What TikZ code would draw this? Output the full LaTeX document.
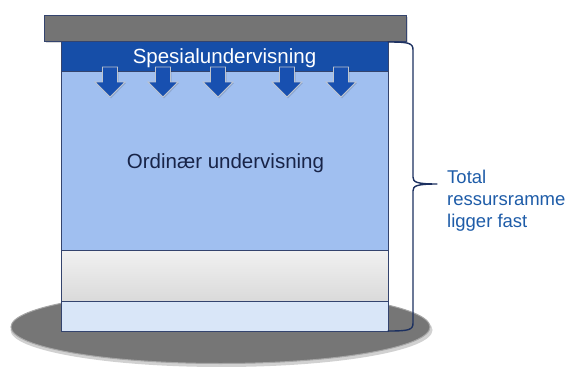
\documentclass[tikz,border=0pt]{standalone}
\usepackage{fontspec}
\setmainfont{Liberation Sans}
\usetikzlibrary{shapes.geometric}
\definecolor{barGray}{RGB}{116,116,116}
\definecolor{edgeNavy}{RGB}{52,68,110}
\definecolor{darkBand}{RGB}{22,78,168}
\definecolor{lightBand}{RGB}{160,191,240}
\definecolor{paleBand}{RGB}{217,230,248}
\definecolor{grayTop}{RGB}{241,241,241}
\definecolor{grayBot}{RGB}{218,218,218}
\definecolor{braceNavy}{RGB}{28,48,96}
\definecolor{labelBlue}{RGB}{30,92,168}
\definecolor{textNavy}{RGB}{24,36,72}
\definecolor{arrowFill}{RGB}{24,80,176}
\definecolor{arrowEdge}{RGB}{190,196,206}
\definecolor{plateGray}{RGB}{118,118,118}
\begin{document}
\begin{tikzpicture}[x=1pt,y=-1pt,
  layer/.style={draw=edgeNavy,line width=0.8pt,inner sep=0pt,outer sep=0pt,anchor=north west},
  downarrow/.style={fill=arrowFill,draw=arrowEdge,line width=0.9pt,line join=miter},
  bigtext/.style={font=\fontsize{20.5}{24}\selectfont,inner sep=0pt,anchor=base}]
\useasboundingbox (0,0) rectangle (568,367);
% plate
\fill[black,opacity=0.18] (221.5,330) ellipse [x radius=211,y radius=37];
\node[ellipse,fill=plateGray,draw=gray!70,line width=1pt,minimum width=419pt,minimum height=73pt,inner sep=0pt] (plate) at (220.5,327) {};
% top bar
\fill[black,opacity=0.15] (46,17) rectangle (408,43);
\node[layer,fill=barGray,minimum width=362pt,minimum height=26pt] (lid) at (44,15) {};
% stack
\node[layer,fill=darkBand,minimum width=327pt,minimum height=30pt] (spes) at (61,41) {};
\node[layer,fill=lightBand,minimum width=327pt,minimum height=179pt] (ord) at (61,71) {};
\node[layer,top color=grayTop,bottom color=grayBot,minimum width=327pt,minimum height=51pt] (grey) at (61,250) {};
\node[layer,fill=paleBand,minimum width=327pt,minimum height=30pt] (pale) at (61,301) {};
% texts
\node[bigtext,text=white] (spestext) at (224.5,63) {Spesialundervisning};
\node[bigtext,text=textNavy] (ordtext) at (225.5,168) {Ordinær undervisning};
% arrows
\foreach \cx in {110,163,218,287,341}{
  \fill[black,opacity=0.12] ({\cx-7.5+1},68) -- ({\cx+7.5+1},68) -- ({\cx+7.5+1},83) -- ({\cx+15+1},83) -- ({\cx+1},98.5) -- ({\cx-15+1},83) -- ({\cx-7.5+1},83) -- cycle;
  \draw[downarrow] ({\cx-7.5},67) -- ({\cx+7.5},67) -- ({\cx+7.5},82) -- ({\cx+15},82) -- (\cx,97) -- ({\cx-15},82) -- ({\cx-7.5},82) -- cycle;
}
% brace
\coordinate (btop) at (388,42);
\coordinate (bbot) at (388,331);
\coordinate (btip) at (437,184);
\draw[braceNavy,line width=1.4pt,line cap=round,line join=round]
  (btop) .. controls (409,42) and (413,43) .. (413,50)
  -- (413,177) .. controls (413,182) and (416,184) .. (btip)
  .. controls (416,184) and (413,186) .. (413,191)
  -- (413,323) .. controls (413,330) and (409,331) .. (bbot);
\node[font=\fontsize{18.5}{22}\selectfont,text=labelBlue,align=left,inner sep=0pt,anchor=west] (label) at (447,200.5) {Total\\ressursramme\\ligger fast};
\end{tikzpicture}
\end{document}
